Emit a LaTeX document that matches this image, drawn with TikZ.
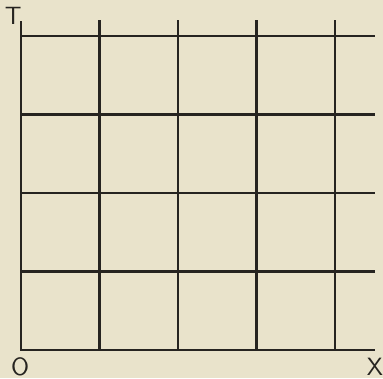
\documentclass[tikz,border=0pt]{standalone}
\usepackage{tikz}
\usetikzlibrary{positioning}
\definecolor{paper}{RGB}{233,227,203}
\definecolor{ink}{RGB}{38,36,32}

\begin{document}
\begin{tikzpicture}[
    x=39.25pt, y=39.25pt,
    gridline/.style={draw=ink, line width=1.3pt},
    axislabel/.style={font=\sffamily\fontsize{12.5}{14}\selectfont, text=ink, inner sep=0pt}
]
\fill[paper] (-0.2675,-0.3567) rectangle (4.611,4.4586);
\useasboundingbox (-0.2675,-0.3567) rectangle (4.611,4.4586);

\coordinate (origin) at (0,0);
\coordinate (xend) at (4.51,0);
\coordinate (tend) at (0,4.19);

% vertical lines
\foreach \x in {1,2,3,4} {
    \draw[gridline] (\x,0) -- (\x,4.21);
}
% horizontal lines
\foreach \y in {1,2,3,4} {
    \draw[gridline] (0,\y) -- (4.51,\y);
}
\draw[gridline] (tend) -- (origin) -- (xend);

\node[axislabel] (t) at (-0.10,4.25) {T};
\node[axislabel] (o) at (-0.01,-0.22) {O};
\node[axislabel] (xl) at (4.51,-0.22) {X};
\end{tikzpicture}
\end{document}
